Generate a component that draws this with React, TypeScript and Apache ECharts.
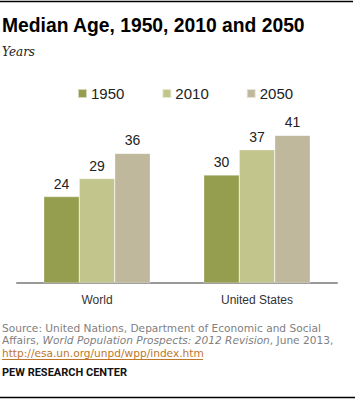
import React, { useEffect, useRef } from "react";
import * as echarts from "echarts";

const categories = ["World", "United States"];
const seriesNames = ["1950", "2010", "2050"];
const values1950 = [24, 30];
const values2010 = [29, 37];
const values2050 = [36, 41];
const colors = ["#959d4e", "#c2c68c", "#c0b89c"];

export default function App() {
  const ref = useRef<HTMLDivElement>(null);
  useEffect(() => {
    if (!ref.current) return;
    const chart = echarts.init(ref.current, null, { renderer: "svg" });
    const data = [values1950, values2010, values2050];
    const series = seriesNames.map((name, i) => ({
      name,
      type: "bar",
      data: data[i],
      barWidth: 35.5,
      barGap: "0%",
      itemStyle: { color: colors[i], borderColor: "rgba(255,255,255,0.6)", borderWidth: 0.5 },
      label: {
        show: true,
        position: "top",
        distance: 6,
        fontFamily: "Liberation Sans",
        fontSize: 14,
        color: "#222",
      },
    }));
    const src = { fontFamily: "DejaVu Sans", fontSize: 10.6, fill: "#808080" };
    chart.setOption({
      animation: false,
      grid: { left: 17, right: 18, top: 103, bottom: 117, containLabel: false },
      legend: {
        left: 72,
        top: 81,
        icon: "rect",
        itemWidth: 9,
        itemHeight: 9,
        itemGap: 37,
        textStyle: { fontFamily: "Liberation Sans", fontSize: 15, color: "#222", padding: [0, 0, 0, -1] },
        data: seriesNames,
      },
      xAxis: {
        type: "category",
        data: categories,
        axisLine: { lineStyle: { color: "#999", width: 2 } },
        axisTick: { show: false },
        axisLabel: { fontFamily: "Liberation Sans", fontSize: 12, color: "#333", margin: 11 },
      },
      yAxis: {
        type: "value",
        min: 0,
        max: 50,
        show: false,
        splitLine: { show: false },
      },
      series,
      graphic: [
        { type: "line", shape: { x1: 0, y1: 1.5, x2: 353, y2: 1.5 }, style: { stroke: "#000", lineWidth: 1.5 } },
        {
          type: "text",
          left: 2,
          top: 16,
          style: {
            text: "Median Age, 1950, 2010 and 2050",
            fontFamily: "Liberation Sans",
            fontWeight: "bold",
            fontSize: 19.3,
            fill: "#000",
          },
        },
        {
          type: "text",
          left: 2,
          top: 46,
          style: { text: "Years", fontFamily: "DejaVu Serif", fontStyle: "italic", fontSize: 12, fill: "#222" },
        },
        {
          type: "text",
          left: 2,
          top: 322,
          style: { text: "Source: United Nations, Department of Economic and Social", ...src },
        },
        {
          type: "text",
          left: 2,
          top: 334.5,
          style: {
            rich: {
              n: { ...src },
              i: { ...src, fontStyle: "italic" },
            },
            text: "{n|Affairs, }{i|World Population Prospects: 2012 Revision}{n|, June 2013,}",
          },
        },
        {
          type: "text",
          left: 2,
          top: 347,
          style: { text: "http://esa.un.org/unpd/wpp/index.htm", ...src, fill: "#c0762a" },
        },
        { type: "line", shape: { x1: 2, y1: 359.5, x2: 203, y2: 359.5 }, style: { stroke: "#c0762a", lineWidth: 1 } },
        {
          type: "text",
          left: 2,
          top: 367,
          style: {
            text: "PEW RESEARCH CENTER",
            fontFamily: "Roboto",
            fontWeight: "bold",
            fontSize: 11,
            fill: "#111",
          },
        },
        { type: "line", shape: { x1: 0, y1: 397.5, x2: 355, y2: 397.5 }, style: { stroke: "#000", lineWidth: 1.5 } },
      ],
    });
    return () => chart.dispose();
  }, []);
  return (
    <div
      ref={ref}
      style={{ position: "fixed", left: 0, top: 0, width: 355, height: 400, background: "#fff" }}
    />
  );
}
